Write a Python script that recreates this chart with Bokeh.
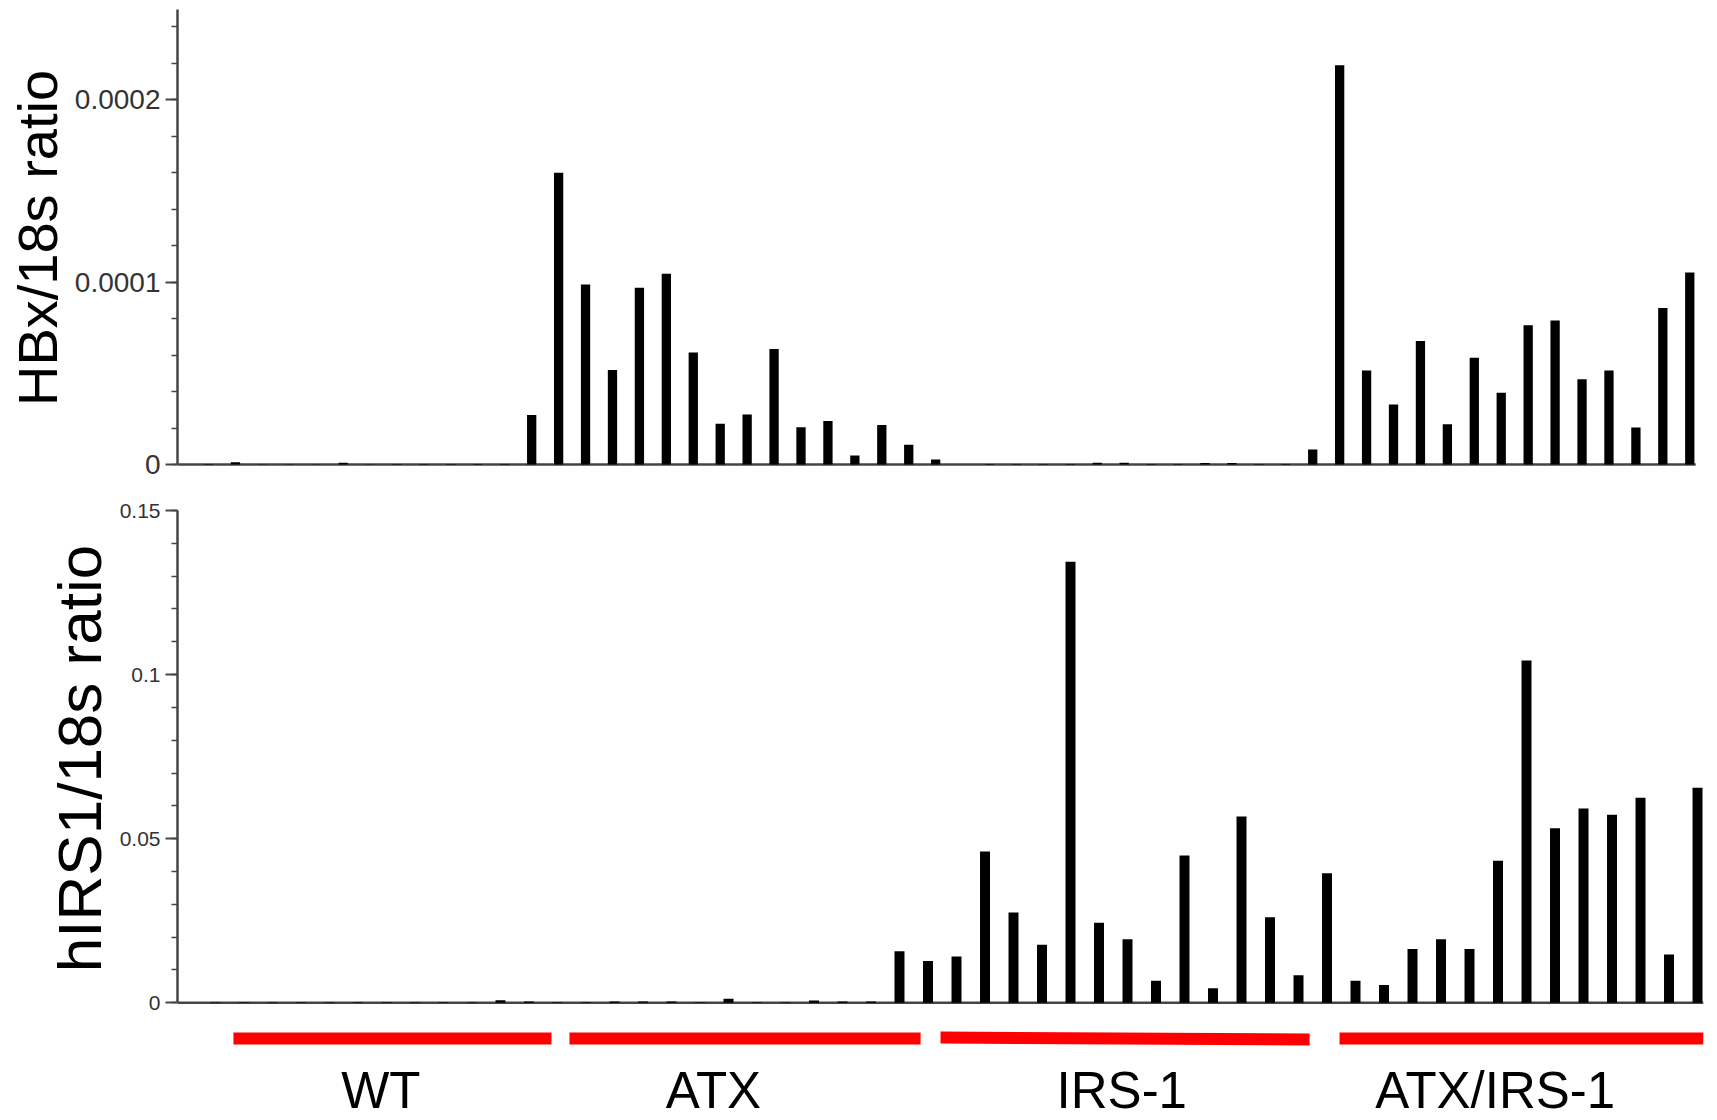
import math
from bokeh.plotting import figure
from bokeh.layouts import column
from bokeh.models import Range1d, FixedTicker, PrintfTickFormatter, ColumnDataSource
from bokeh.embed import file_html
from bokeh.resources import INLINE
from bokeh.core.properties import value

# ---------------- data ----------------
hbx_samples = list(range(56))
hbx_ratio = [
    3e-7, 1.2e-6, 2e-7, 2e-7, 2e-7, 1e-6, 2e-7, 3e-7, 3e-7, 3e-7, 3e-7, 3e-7,
    2.72e-5, 1.60e-4, 9.87e-5, 5.19e-5, 9.69e-5, 1.046e-4, 6.14e-5, 2.23e-5,
    2.74e-5, 6.34e-5, 2.05e-5, 2.38e-5, 4.9e-6, 2.16e-5, 1.08e-5, 2.7e-6,
    0.0, 3e-7, 3e-7, 3e-7, 3e-7, 1e-6, 1e-6, 3e-7, 3e-7, 8e-7, 8e-7, 3e-7, 3e-7,
    8.2e-6,
    2.19e-4, 5.16e-5, 3.29e-5, 6.78e-5, 2.21e-5, 5.85e-5, 3.93e-5, 7.64e-5,
    7.90e-5, 4.68e-5, 5.16e-5, 2.03e-5, 8.59e-5, 1.053e-4,
]

hirs1_samples = list(range(53))
hirs1_ratio = [
    0.0002, 0.0002, 0.0002, 0.0002, 0.0002, 0.0002, 0.0002, 0.0002, 0.0002, 0.0002,
    0.0008, 0.0004, 0.0002, 0.0002, 0.0004, 0.0004, 0.0004, 0.0002, 0.0012, 0.0002,
    0.0002, 0.0007, 0.0004, 0.0004,
    0.0157, 0.0127, 0.0141, 0.0461, 0.0275, 0.0177, 0.1344, 0.0244, 0.0194, 0.0067,
    0.0449, 0.0044, 0.0568, 0.0261, 0.0084, 0.0395, 0.0067, 0.0054, 0.0164, 0.0194,
    0.0164, 0.0433, 0.1043, 0.0532, 0.0592, 0.0573, 0.0625, 0.0147, 0.0655,
]

hbx_ticks = [0, 0.0001, 0.0002]
hirs1_ticks = [0, 0.05, 0.1, 0.15]

groups = ["WT", "ATX", "IRS-1", "ATX/IRS-1"]

# ---------------- layout / style (not data) ----------------
group_line_start = [0.63, 12.42, 25.44, 39.44]
group_line_end = [11.79, 24.74, 38.39, 52.21]
group_line_y0 = [81, 81, 82, 81]
group_line_y1 = [81, 81, 80, 81]
group_label_x = [5.8, 17.47, 31.8, 44.9]

FONT = "Liberation Sans"
AXIS_COLOR = "#454545"
TICK_TEXT = "#333333"
W = 1712
BL, BR = 177, 9

TOP_X = (-1.151, 55.51)
TOP_BASE = (-1.151, 55.22)
BOT_X = (-1.333, 52.21)


def style_axis(p, label_size, title, title_size, standoff):
    p.xaxis.visible = False
    p.xgrid.visible = False
    p.ygrid.visible = False
    p.outline_line_color = None
    ax = p.yaxis[0]
    ax.axis_line_color = AXIS_COLOR
    ax.axis_line_width = 2.5
    ax.major_tick_line_color = AXIS_COLOR
    ax.major_tick_line_width = 2
    ax.major_tick_out = 12
    ax.major_tick_in = 0
    ax.minor_tick_line_color = AXIS_COLOR
    ax.minor_tick_line_width = 1.5
    ax.minor_tick_out = 6
    ax.minor_tick_in = 0
    ax.major_label_text_font = FONT
    ax.major_label_text_font_size = label_size
    ax.major_label_text_color = TICK_TEXT
    ax.major_label_standoff = 5
    ax.formatter = PrintfTickFormatter(format="%g")
    ax.axis_label = title
    ax.axis_label_text_font = FONT
    ax.axis_label_text_font_size = title_size
    ax.axis_label_text_font_style = "normal"
    ax.axis_label_text_color = "black"
    ax.axis_label_standoff = standoff


# ---------------- top panel ----------------
top = figure(width=W, height=488, output_backend="svg", toolbar_location=None,
             x_range=Range1d(*TOP_X), y_range=Range1d(-1.1e-6, 2.496e-4),
             min_border_left=BL, min_border_right=BR, min_border_top=9,
             min_border_bottom=22)
style_axis(top, "28px", "HBx/18s ratio", "56px", 3)
top.yaxis[0].ticker = FixedTicker(ticks=hbx_ticks,
                                  minor_ticks=[i * 2e-5 for i in range(13)])
top.yaxis[0].bounds = (0, 2.496e-4)
top.segment(x0=[TOP_BASE[0]], x1=[TOP_BASE[1]], y0=[0], y1=[0],
            line_color=AXIS_COLOR, line_width=2.5, level="underlay")
top.vbar(x=hbx_samples, top=hbx_ratio, bottom=0, width=0.345,
         fill_color="black", line_color=None)

# ---------------- bottom panel ----------------
bot = figure(width=W, height=532, output_backend="svg", toolbar_location=None,
             x_range=Range1d(*BOT_X), y_range=Range1d(-0.001127, 0.15),
             min_border_left=BL, min_border_right=BR, min_border_top=22,
             min_border_bottom=14)
style_axis(bot, "21px", "hIRS1/18s ratio", "62px", 3)
bot.yaxis[0].ticker = FixedTicker(ticks=hirs1_ticks,
                                  minor_ticks=[i * 0.01 for i in range(16)])
bot.yaxis[0].bounds = (0, 0.15)
bot.segment(x0=[BOT_X[0]], x1=[BOT_X[1]], y0=[0], y1=[0],
            line_color=AXIS_COLOR, line_width=2.5, level="underlay")
bot.vbar(x=hirs1_samples, top=hirs1_ratio, bottom=0, width=0.35,
         fill_color="black", line_color=None)

# ---------------- group annotation strip ----------------
grp = figure(width=W, height=99, output_backend="svg", toolbar_location=None,
             x_range=Range1d(*BOT_X), y_range=Range1d(0, 99),
             min_border_left=BL, min_border_right=BR, min_border_top=0,
             min_border_bottom=0)
grp.axis.visible = False
grp.xgrid.visible = False
grp.ygrid.visible = False
grp.outline_line_color = None
grp.segment(x0=group_line_start, x1=group_line_end, y0=group_line_y0, y1=group_line_y1,
            line_color="#ff0000", line_width=12, line_cap="butt")
gsrc = ColumnDataSource(dict(x=group_label_x, y=[29] * 4, t=groups))
grp.text(x="x", y="y", text="t", source=gsrc, text_font=value(FONT),
         text_font_size=value("51px"), text_align="center",
         text_baseline="middle", text_color="black")

layout = column(top, bot, grp, spacing=0)
open("out.html", "w").write(file_html(layout, INLINE))
